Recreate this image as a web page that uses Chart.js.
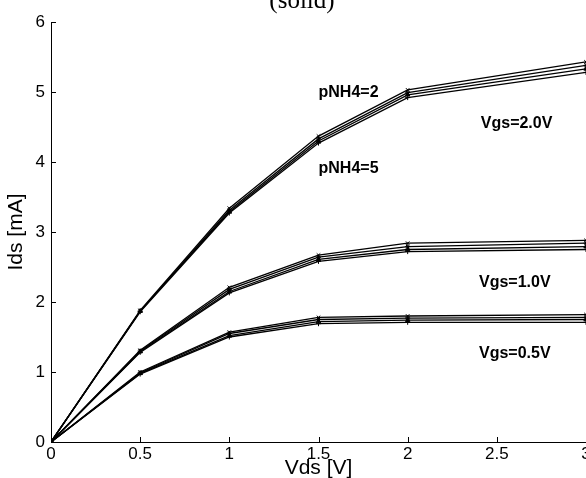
<!DOCTYPE html>
<html>
<head>
<meta charset="utf-8">
<script src="https://cdn.jsdelivr.net/npm/chart.js@4.4.1/dist/chart.umd.min.js"></script>
<style>
html,body{margin:0;padding:0;background:#fff;}
#wrap{width:586px;height:478px;position:relative;}
</style>
</head>
<body>
<div id="wrap"><canvas id="c" width="586" height="478"></canvas></div>
<script>
const vds = [0, 0.5, 1, 1.5, 2, 3];
const pnh4Labels = ['pNH4=2', 'pNH4=3', 'pNH4=4', 'pNH4=5'];
// Vgs = 2.0 V
const vgs20_p2 = [0, 1.88, 3.34, 4.37, 5.03, 5.43];
const vgs20_p3 = [0, 1.87, 3.31, 4.33, 4.99, 5.38];
const vgs20_p4 = [0, 1.87, 3.29, 4.30, 4.96, 5.33];
const vgs20_p5 = [0, 1.86, 3.27, 4.27, 4.92, 5.28];
// Vgs = 1.0 V
const vgs10_p2 = [0, 1.31, 2.21, 2.67, 2.84, 2.88];
const vgs10_p3 = [0, 1.30, 2.18, 2.64, 2.79, 2.84];
const vgs10_p4 = [0, 1.29, 2.15, 2.61, 2.75, 2.79];
const vgs10_p5 = [0, 1.28, 2.13, 2.58, 2.72, 2.75];
// Vgs = 0.5 V
const vgs05_p2 = [0, 1.00, 1.57, 1.78, 1.80, 1.82];
const vgs05_p3 = [0, 0.99, 1.55, 1.75, 1.77, 1.78];
const vgs05_p4 = [0, 0.98, 1.52, 1.72, 1.74, 1.75];
const vgs05_p5 = [0, 0.97, 1.50, 1.69, 1.71, 1.71];

const xTicks = [0, 0.5, 1, 1.5, 2, 2.5, 3];
const yTicks = [0, 1, 2, 3, 4, 5, 6];
const titleText = '(solid)';
const xTitle = 'Vds [V]';
const yTitle = 'Ids [mA]';
const annotations = [
  {text: 'pNH4=2', x: 1.50, y: 4.99},
  {text: 'Vgs=2.0V', x: 2.41, y: 4.55},
  {text: 'pNH4=5', x: 1.50, y: 3.90},
  {text: 'Vgs=1.0V', x: 2.40, y: 2.28},
  {text: 'Vgs=0.5V', x: 2.40, y: 1.27}
];

const markerStyles = ['crossRot', 'star', 'triangle', 'cross'];
function mk(vals, idx, grp) {
  return {
    label: grp + ' ' + pnh4Labels[idx],
    data: vds.map((x, i) => ({x: x, y: vals[i]})),
    borderColor: '#000',
    backgroundColor: '#000',
    borderWidth: 1.3,
    pointStyle: markerStyles[idx],
    pointRadius: 2.5,
    pointBorderWidth: 1,
    pointHoverRadius: 0,
    tension: 0,
    fill: false
  };
}
const datasets = [
  mk(vgs20_p2,0,'Vgs=2.0V'), mk(vgs20_p3,1,'Vgs=2.0V'), mk(vgs20_p4,2,'Vgs=2.0V'), mk(vgs20_p5,3,'Vgs=2.0V'),
  mk(vgs10_p2,0,'Vgs=1.0V'), mk(vgs10_p3,1,'Vgs=1.0V'), mk(vgs10_p4,2,'Vgs=1.0V'), mk(vgs10_p5,3,'Vgs=1.0V'),
  mk(vgs05_p2,0,'Vgs=0.5V'), mk(vgs05_p3,1,'Vgs=0.5V'), mk(vgs05_p4,2,'Vgs=0.5V'), mk(vgs05_p5,3,'Vgs=0.5V')
];

const decor = {
  id: 'decor',
  afterDraw(chart) {
    const ctx = chart.ctx;
    const xs = chart.scales.x, ys = chart.scales.y;
    const area = chart.chartArea;
    ctx.save();
    ctx.strokeStyle = '#000';
    ctx.lineWidth = 1;
    ctx.beginPath();
    xTicks.forEach(v => {
      const px = Math.round(xs.getPixelForValue(v)) + 0.5;
      ctx.moveTo(px, area.bottom);
      ctx.lineTo(px, area.bottom - 5);
    });
    yTicks.forEach(v => {
      const py = Math.round(ys.getPixelForValue(v)) + 0.5;
      ctx.moveTo(area.left, py);
      ctx.lineTo(area.left + 5, py);
    });
    ctx.stroke();
    // annotations
    ctx.fillStyle = '#000';
    ctx.font = 'bold 16px "Liberation Sans", Arial, sans-serif';
    ctx.textBaseline = 'middle';
    ctx.textAlign = 'left';
    annotations.forEach(a => {
      ctx.fillText(a.text, xs.getPixelForValue(a.x), ys.getPixelForValue(a.y));
    });
    // clipped title
    ctx.font = '25px "Liberation Serif", "Times New Roman", serif';
    ctx.textAlign = 'center';
    ctx.textBaseline = 'alphabetic';
    ctx.fillText(titleText, 302, 8);
    ctx.restore();
  }
};

const tickFont = {family: '"Liberation Sans", Arial, sans-serif', size: 17};
const titleFont = {family: '"Liberation Sans", Arial, sans-serif', size: 21};

new Chart(document.getElementById('c'), {
  type: 'line',
  data: {datasets: datasets},
  options: {
    responsive: false,
    animation: false,
    events: [],
    layout: {autoPadding: false, padding: {top: 22, right: 0, left: 0, bottom: 0}},
    plugins: {legend: {display: false}, title: {display: false}, tooltip: {enabled: false}},
    scales: {
      x: {
        type: 'linear', min: 0, max: 3,
        afterFit(s) { s.height = 36; s.paddingRight = 0; s.paddingLeft = 0; },
        afterBuildTicks(s) { s.ticks = xTicks.map(v => ({value: v})); },
        grid: {display: true, drawOnChartArea: false, drawTicks: false},
        border: {display: true, color: '#000', width: 1},
        ticks: {color: '#000', padding: 2, font: tickFont, maxRotation: 0, autoSkip: false,
                callback: v => String(v)},
        title: {display: true, text: xTitle, color: '#000', padding: {top: 0, bottom: -3}, font: titleFont}
      },
      y: {
        type: 'linear', min: 0, max: 6,
        afterFit(s) { s.width = 51; s.paddingTop = 0; s.paddingBottom = 0; },
        afterBuildTicks(s) { s.ticks = yTicks.map(v => ({value: v})); },
        grid: {display: true, drawOnChartArea: false, drawTicks: false},
        border: {display: true, color: '#000', width: 1},
        ticks: {color: '#000', padding: 6, font: tickFont, autoSkip: false, callback: v => String(v)},
        title: {display: true, text: yTitle, color: '#000', padding: {top: 4, bottom: 0}, font: titleFont}
      }
    }
  },
  plugins: [decor]
});
</script>
</body>
</html>
